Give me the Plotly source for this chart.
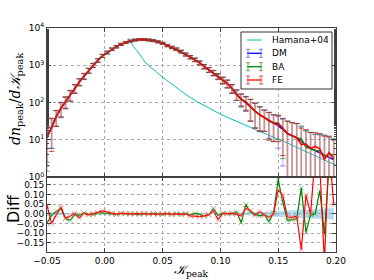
import plotly.graph_objects as go

# ---------------- data ----------------
kappa = [-0.050, -0.046, -0.042, -0.038, -0.034, -0.030, -0.026, -0.022, -0.018, -0.014,
         -0.010, -0.006, -0.002, 0.002, 0.006, 0.010, 0.014, 0.018, 0.022, 0.026,
         0.030, 0.034, 0.038, 0.042, 0.046, 0.050, 0.054, 0.058, 0.062, 0.066,
         0.070, 0.074, 0.078, 0.082, 0.086, 0.090, 0.094, 0.098, 0.102, 0.106,
         0.110, 0.114, 0.118, 0.122, 0.126, 0.130, 0.134, 0.138, 0.142, 0.146,
         0.150, 0.154, 0.158, 0.162, 0.166, 0.170, 0.174, 0.178, 0.182, 0.186,
         0.190, 0.194, 0.198]

dm_counts = [12, 22, 42, 69, 107, 162, 240, 363, 513, 724,
             1000, 1349, 1778, 2188, 2692, 3162, 3631, 4074, 4467, 4732,
             4898, 4898, 4786, 4571, 4266, 3890, 3388, 3020, 2692, 2344,
             1950, 1660, 1413, 1175, 933, 759, 617, 513, 398, 324,
             240, 166, 126, 100, 76, 59, 47, 40, 33, 28,
             24, 19, 15, 13.2, 11.5, 9.3, 7.1, 5.9, 5.2, 4.6,
             4.0, 3.4, 2.95]

count_err = [10, 16, 19, 30, 36, 51, 62, 76, 91, 108,
             126, 147, 169, 187, 208, 225, 241, 255, 267, 275,
             280, 280, 277, 270, 261, 249, 233, 220, 208, 194,
             177, 163, 150, 137, 122, 110, 99, 85, 80, 76,
             62, 52, 45, 42, 45, 38, 30, 23, 22, 19,
             18, 17, 17, 16, 16, 13, 11, 10, 9, 9,
             9.5, 8, 7]

diff_ba = [-0.047, -0.007, 0.012, 0.028, -0.024, -0.033, -0.004, -0.008, 0.005, -0.002,
           -0.004, 0.004, 0.006, 0.003, 0.000, -0.003, 0.002, 0.001, 0.003, 0.000,
           -0.002, 0.001, -0.001, 0.002, 0.000, -0.002, 0.001, -0.003, 0.002, -0.001,
           0.000, -0.006, 0.003, -0.002, -0.012, -0.005, 0.028, -0.008, 0.004, 0.002,
           0.000, 0.010, -0.045, 0.048, 0.010, 0.000, -0.010, -0.004, -0.040, 0.006,
           0.176, 0.060, -0.033, -0.030, -0.025, 0.135, -0.095, -0.005, 0.000, 0.120,
           -0.105, 0.250, 0.300]

diff_fe = [0.045, -0.050, -0.005, 0.036, -0.022, -0.012, 0.003, -0.020, 0.004, -0.005,
           0.002, 0.008, 0.016, 0.010, 0.004, -0.002, 0.004, 0.003, -0.001, 0.002,
           0.001, 0.003, 0.000, 0.001, -0.002, 0.001, 0.002, -0.002, 0.000, -0.004,
           0.002, -0.010, -0.012, -0.014, -0.010, -0.004, 0.015, -0.030, 0.002, 0.000,
           0.004, -0.002, -0.010, 0.028, 0.018, -0.008, 0.012, -0.006, -0.018, 0.000,
           0.125, 0.095, -0.016, -0.018, -0.012, -0.185, 0.097, 0.000, 0.300, 0.250,
           -0.250, 0.350, 0.050]

dm_band = [0.012, 0.010, 0.008, 0.006, 0.004, 0.003, 0.002, 0.002, 0.001, 0.001,
           0.001, 0.001, 0.001, 0.001, 0.001, 0.001, 0.001, 0.001, 0.001, 0.001,
           0.001, 0.001, 0.001, 0.001, 0.001, 0.001, 0.001, 0.001, 0.001, 0.001,
           0.001, 0.001, 0.001, 0.002, 0.002, 0.002, 0.002, 0.003, 0.003, 0.004,
           0.004, 0.005, 0.005, 0.006, 0.008, 0.009, 0.010, 0.011, 0.013, 0.014,
           0.015, 0.016, 0.017, 0.018, 0.019, 0.020, 0.021, 0.022, 0.024, 0.025,
           0.027, 0.028, 0.030]

hamana_k = [0.0203, 0.022, 0.025, 0.030, 0.035, 0.040, 0.045, 0.050, 0.060, 0.070,
            0.080, 0.090, 0.100, 0.110, 0.120, 0.130, 0.140, 0.150, 0.160, 0.170,
            0.180, 0.190, 0.200]
hamana_n = [5248, 4365, 3162, 1995, 1202, 871, 646, 479, 282, 166,
            105, 72.4, 49, 35.5, 26.3, 19.1, 14.1, 10.5, 7.76, 5.5,
            3.98, 2.88, 2.09]

legend_names = ["Hamana+04", "DM", "BA", "FE"]
xticks = [-0.05, 0.0, 0.05, 0.10, 0.15, 0.20]
xtick_text = ["\u22120.05", "0.00", "0.05", "0.10", "0.15", "0.20"]
ytop_ticks = [1, 10, 100, 1000, 10000]
ytop_text = ["10<sup>0</sup>", "10<sup>1</sup>", "10<sup>2</sup>", "10<sup>3</sup>", "10<sup>4</sup>"]
ybot_ticks = [-0.15, -0.10, -0.05, 0.0, 0.05, 0.10, 0.15]
ybot_text = ["\u22120.15", "\u22120.10", "\u22120.05", "0.00", "0.05", "0.10", "0.15"]

# series derived from DM and the fractional differences
ba_counts = [d * (1 + f) for d, f in zip(dm_counts, diff_ba)]
fe_counts = [d * (1 + f) for d, f in zip(dm_counts, diff_fe)]

# ---------------- layout helpers ----------------
W, H = 374, 280
ML, MR, MT, MB = 47, 38, 28, 28
PW, PH = W - ML - MR, H - MT - MB


def px(x):
    return (x - ML) / PW


def py(y):
    return (H - MB - y) / PH


fig = go.Figure()

fig.add_trace(go.Scatter(x=hamana_k, y=hamana_n, mode="lines", name=legend_names[0],
                         showlegend=False,
                         line=dict(color="#00bfbf", width=1, shape="spline"),
                         xaxis="x", yaxis="y"))

series = [
    ("DM", dm_counts, "rgb(0,0,255)", "rgba(110,110,255,0.35)", "rgba(70,70,220,0.65)"),
    ("BA", ba_counts, "rgb(0,128,0)", "rgba(80,170,80,0.35)", "rgba(40,130,40,0.65)"),
    ("FE", fe_counts, "rgb(255,0,0)", "rgba(255,80,80,0.45)", "rgba(200,30,30,0.75)"),
]
for name, vals, col, ecol, ccol in series:
    fig.add_trace(go.Scatter(x=kappa, y=vals, mode="lines", name=name, showlegend=False,
                             line=dict(color=col, width=1.5),
                             error_y=dict(type="data", array=count_err, color=ecol,
                                          thickness=1.6, width=0),
                             xaxis="x", yaxis="y"))
for name, vals, col, ecol, ccol in series:
    up = [v + e for v, e in zip(vals, count_err)]
    lo = [(v - e) if (v - e) > 0 else None for v, e in zip(vals, count_err)]
    fig.add_trace(go.Scatter(x=kappa + kappa, y=up + lo, mode="markers", showlegend=False,
                             hoverinfo="skip",
                             marker=dict(symbol="line-ew", size=4,
                                         line=dict(color=ccol, width=1)),
                             xaxis="x", yaxis="y"))

# bottom panel
band_up = [b for b in dm_band]
band_lo = [-b for b in dm_band]
fig.add_trace(go.Scatter(x=kappa + kappa[::-1], y=band_up + band_lo[::-1], fill="toself",
                         mode="lines", line=dict(width=0), fillcolor="rgba(120,190,230,0.55)",
                         showlegend=False, hoverinfo="skip", xaxis="x2", yaxis="y2"))
fig.add_trace(go.Scatter(x=kappa, y=diff_ba, mode="lines+markers", showlegend=False,
                         line=dict(color="rgb(0,128,0)", width=1.2),
                         marker=dict(symbol="x-thin", size=5,
                                     line=dict(color="rgba(60,170,60,0.6)", width=1)),
                         xaxis="x2", yaxis="y2"))
fig.add_trace(go.Scatter(x=kappa, y=diff_fe, mode="lines+markers", showlegend=False,
                         line=dict(color="rgb(255,0,0)", width=1.2),
                         marker=dict(symbol="x-thin", size=5,
                                     line=dict(color="rgba(255,90,90,0.6)", width=1)),
                         xaxis="x2", yaxis="y2"))

axcol = "#404040"
gridc = "#a8a8a8"
tickfont = dict(family="DejaVu Sans", size=9, color="black")
common = dict(showline=True, linecolor=axcol, linewidth=1, mirror="ticks",
              ticks="inside", ticklen=4, tickcolor=axcol, showgrid=True,
              gridcolor=gridc, griddash="dot", gridwidth=1, zeroline=False,
              tickfont=tickfont, automargin=False)

# ---------------- hand-drawn legend ----------------
shapes = []
annotations = []
shapes.append(dict(type="rect", xref="paper", yref="paper", layer="above",
                   x0=px(241), x1=px(332), y0=py(89), y1=py(32),
                   line=dict(color="#333333", width=1), fillcolor="white"))
leg_y = [40, 53.3, 66.7, 80]
shapes.append(dict(type="line", xref="paper", yref="paper", layer="above",
                   x0=px(247), x1=px(262), y0=py(leg_y[0]), y1=py(leg_y[0]),
                   line=dict(color="#00bfbf", width=1)))
for (name, vals, col, ecol, ccol), ly in zip(series, leg_y[1:]):
    shapes.append(dict(type="line", xref="paper", yref="paper", layer="above",
                       x0=px(247), x1=px(262), y0=py(ly), y1=py(ly),
                       line=dict(color=col, width=1.3)))
    for ex in (248, 261):
        shapes.append(dict(type="line", xref="paper", yref="paper", layer="above",
                           x0=px(ex), x1=px(ex), y0=py(ly - 4), y1=py(ly + 4),
                           line=dict(color=ecol.replace("0.35", "0.6").replace("0.45", "0.6"),
                                     width=1.5)))
        for cy in (ly - 4, ly + 4):
            shapes.append(dict(type="line", xref="paper", yref="paper", layer="above",
                               x0=px(ex - 2), x1=px(ex + 2), y0=py(cy), y1=py(cy),
                               line=dict(color=ccol, width=1)))
for name, ly in zip(legend_names, leg_y):
    annotations.append(dict(text=name, xref="paper", yref="paper", x=px(270), y=py(ly),
                            xanchor="left", yanchor="middle", showarrow=False,
                            font=dict(family="DejaVu Sans", size=9, color="black")))

# axis titles
annotations.append(dict(text="<i>dn</i><sub>peak</sub>/<i>d\U0001D4A6</i><sub>peak</sub>",
                        xref="paper", yref="paper", x=px(16), y=py(99), textangle=-90,
                        xanchor="center", yanchor="middle", showarrow=False,
                        font=dict(family="DejaVu Serif", size=14, color="black")))
annotations.append(dict(text="Diff", xref="paper", yref="paper", x=px(13), y=py(209),
                        textangle=-90, xanchor="center", yanchor="middle", showarrow=False,
                        font=dict(family="DejaVu Sans", size=16, color="black")))
annotations.append(dict(text="<i>\U0001D4A6</i><sub>peak</sub>", xref="paper", yref="paper",
                        x=px(191), y=py(270), xanchor="center", yanchor="middle",
                        showarrow=False,
                        font=dict(family="DejaVu Serif", size=13, color="black")))

fig.update_layout(
    width=W, height=H,
    margin=dict(l=ML, r=MR, t=MT, b=MB, autoexpand=False),
    paper_bgcolor="white", plot_bgcolor="white",
    xaxis=dict(domain=[0, 1], anchor="y", range=[-0.05, 0.2], tickvals=xticks,
               showticklabels=False, **common),
    yaxis=dict(domain=[0.334, 1], anchor="x", type="log", range=[0, 4],
               tickvals=ytop_ticks, ticktext=ytop_text,
               minor=dict(ticks="inside", ticklen=2, tickcolor=axcol, showgrid=False),
               **common),
    xaxis2=dict(domain=[0, 1], anchor="y2", range=[-0.05, 0.2], tickvals=xticks,
                ticktext=xtick_text, **common),
    yaxis2=dict(domain=[0, 0.334], anchor="x2", range=[-0.197, 0.19],
                tickvals=ybot_ticks, ticktext=ybot_text, **common),
    shapes=shapes,
    annotations=annotations,
    showlegend=False,
)

fig.write_html("out.html",
               config={"displayModeBar": False, "staticPlot": True},
               post_script="document.body.style.margin='0px';"
                           "document.body.style.padding='0px';"
                           "document.documentElement.style.overflow='hidden';")
